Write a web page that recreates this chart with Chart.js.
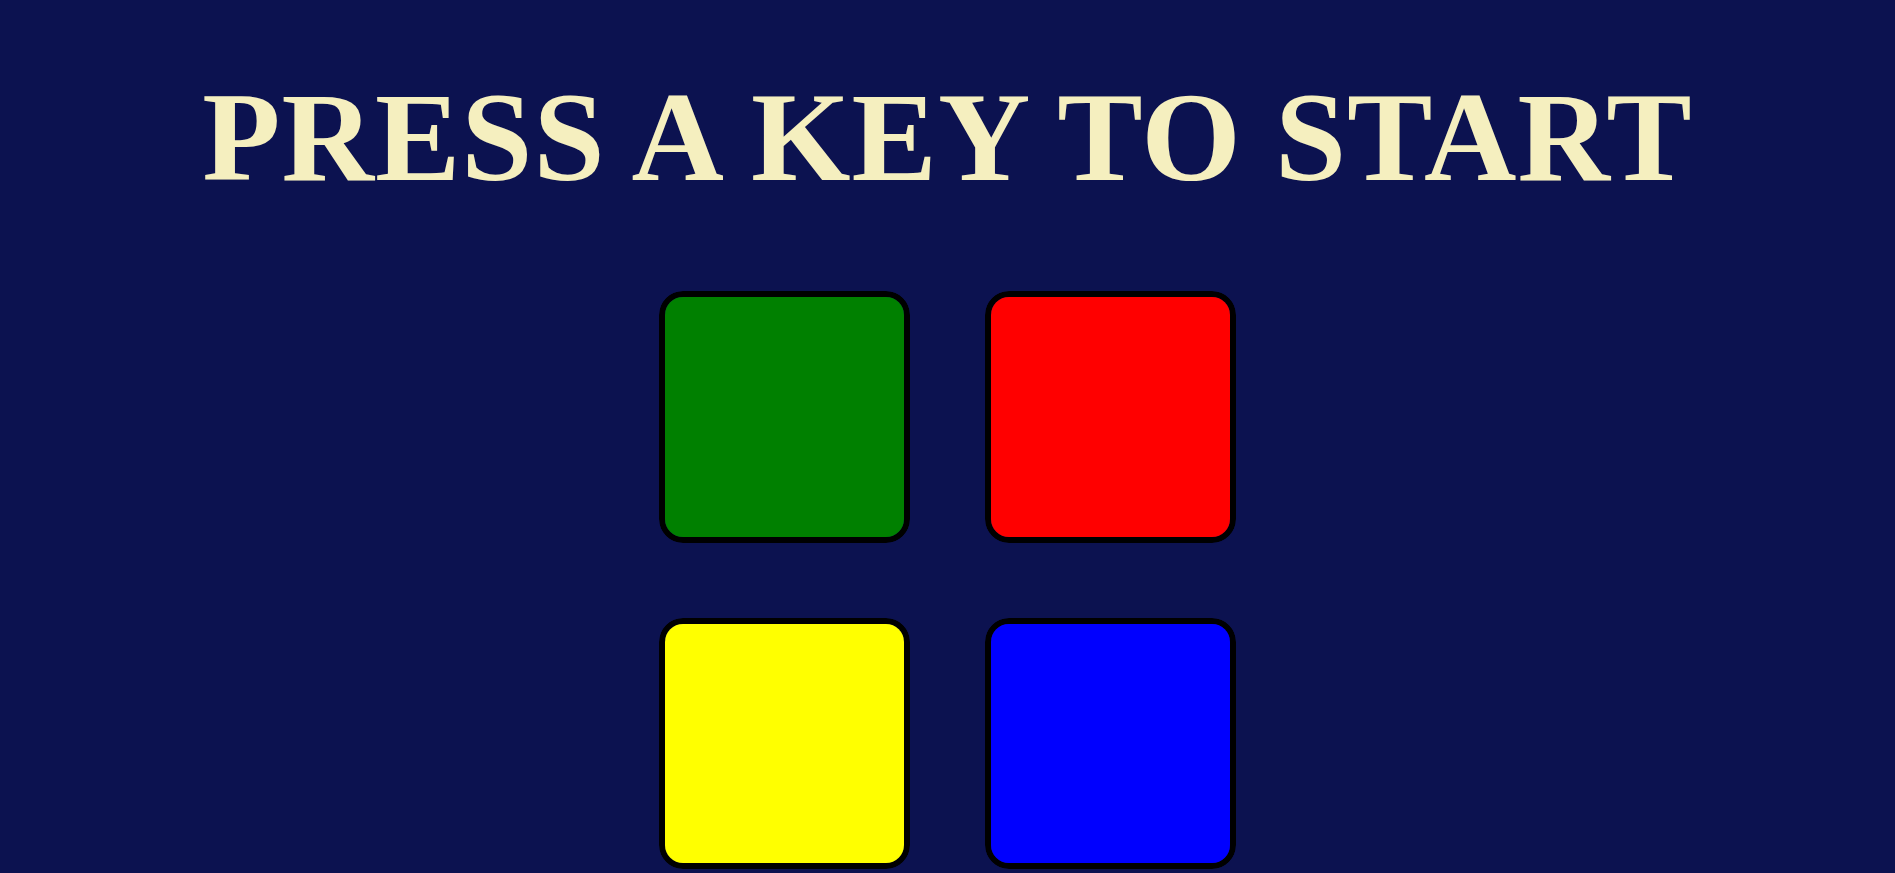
<!DOCTYPE html>
<html>
<head>
<meta charset="utf-8">
<script src="https://cdn.jsdelivr.net/npm/chart.js@4"></script>
<style>
  html, body { margin: 0; padding: 0; width: 100%; height: 100%; background: #0c1250; overflow: hidden; }
  #title { position: absolute; left: 0; right: 0; top: 62px; margin: 0; text-align: center;
    font-family: "Liberation Serif", "DejaVu Serif", serif; font-weight: bold; font-size: 128px;
    line-height: 150px; color: #f5efbf; letter-spacing: 1px; }
  #board { position: absolute; left: 0; top: 0; }
</style>
</head>
<body>
<h1 id="title">PRESS A KEY TO START</h1>
<canvas id="board" width="1895" height="873"></canvas>
<script>
// pads laid out in two columns, two rows (y values in page units, 0 at top)
const columns = ['left', 'right'];
const topRow = [[291, 543], [291, 543]];
const bottomRow = [[618, 869], [618, 869]];
const topColors = ['#008000', '#ff0000'];
const bottomColors = ['#ffff00', '#0000ff'];

let board;

function setupBoard() {
    const ctx = document.getElementById('board').getContext('2d');
    const padStyle = { grouped: false, borderColor: '#000', borderWidth: 6, borderRadius: 24, borderSkipped: false,
        barPercentage: 1, categoryPercentage: 251 / 326 };
    board = new Chart(ctx, {
        type: 'bar',
        data: {
            labels: columns,
            datasets: [
                { label: 'top', data: topRow, backgroundColor: topColors, ...padStyle },
                { label: 'bottom', data: bottomRow, backgroundColor: bottomColors, ...padStyle }
            ]
        },
        options: {
            responsive: false, animation: false,
            layout: { padding: { left: 621.5, right: 621.5, top: 0, bottom: 0 } },
            plugins: { legend: { display: false }, tooltip: { enabled: false } },
            scales: {
                x: { display: false },
                y: { display: false, min: 0, max: 873, reverse: true }
            }
        }
    });
}

document.addEventListener('DOMContentLoaded', setupBoard);
</script>
</body>
</html>
